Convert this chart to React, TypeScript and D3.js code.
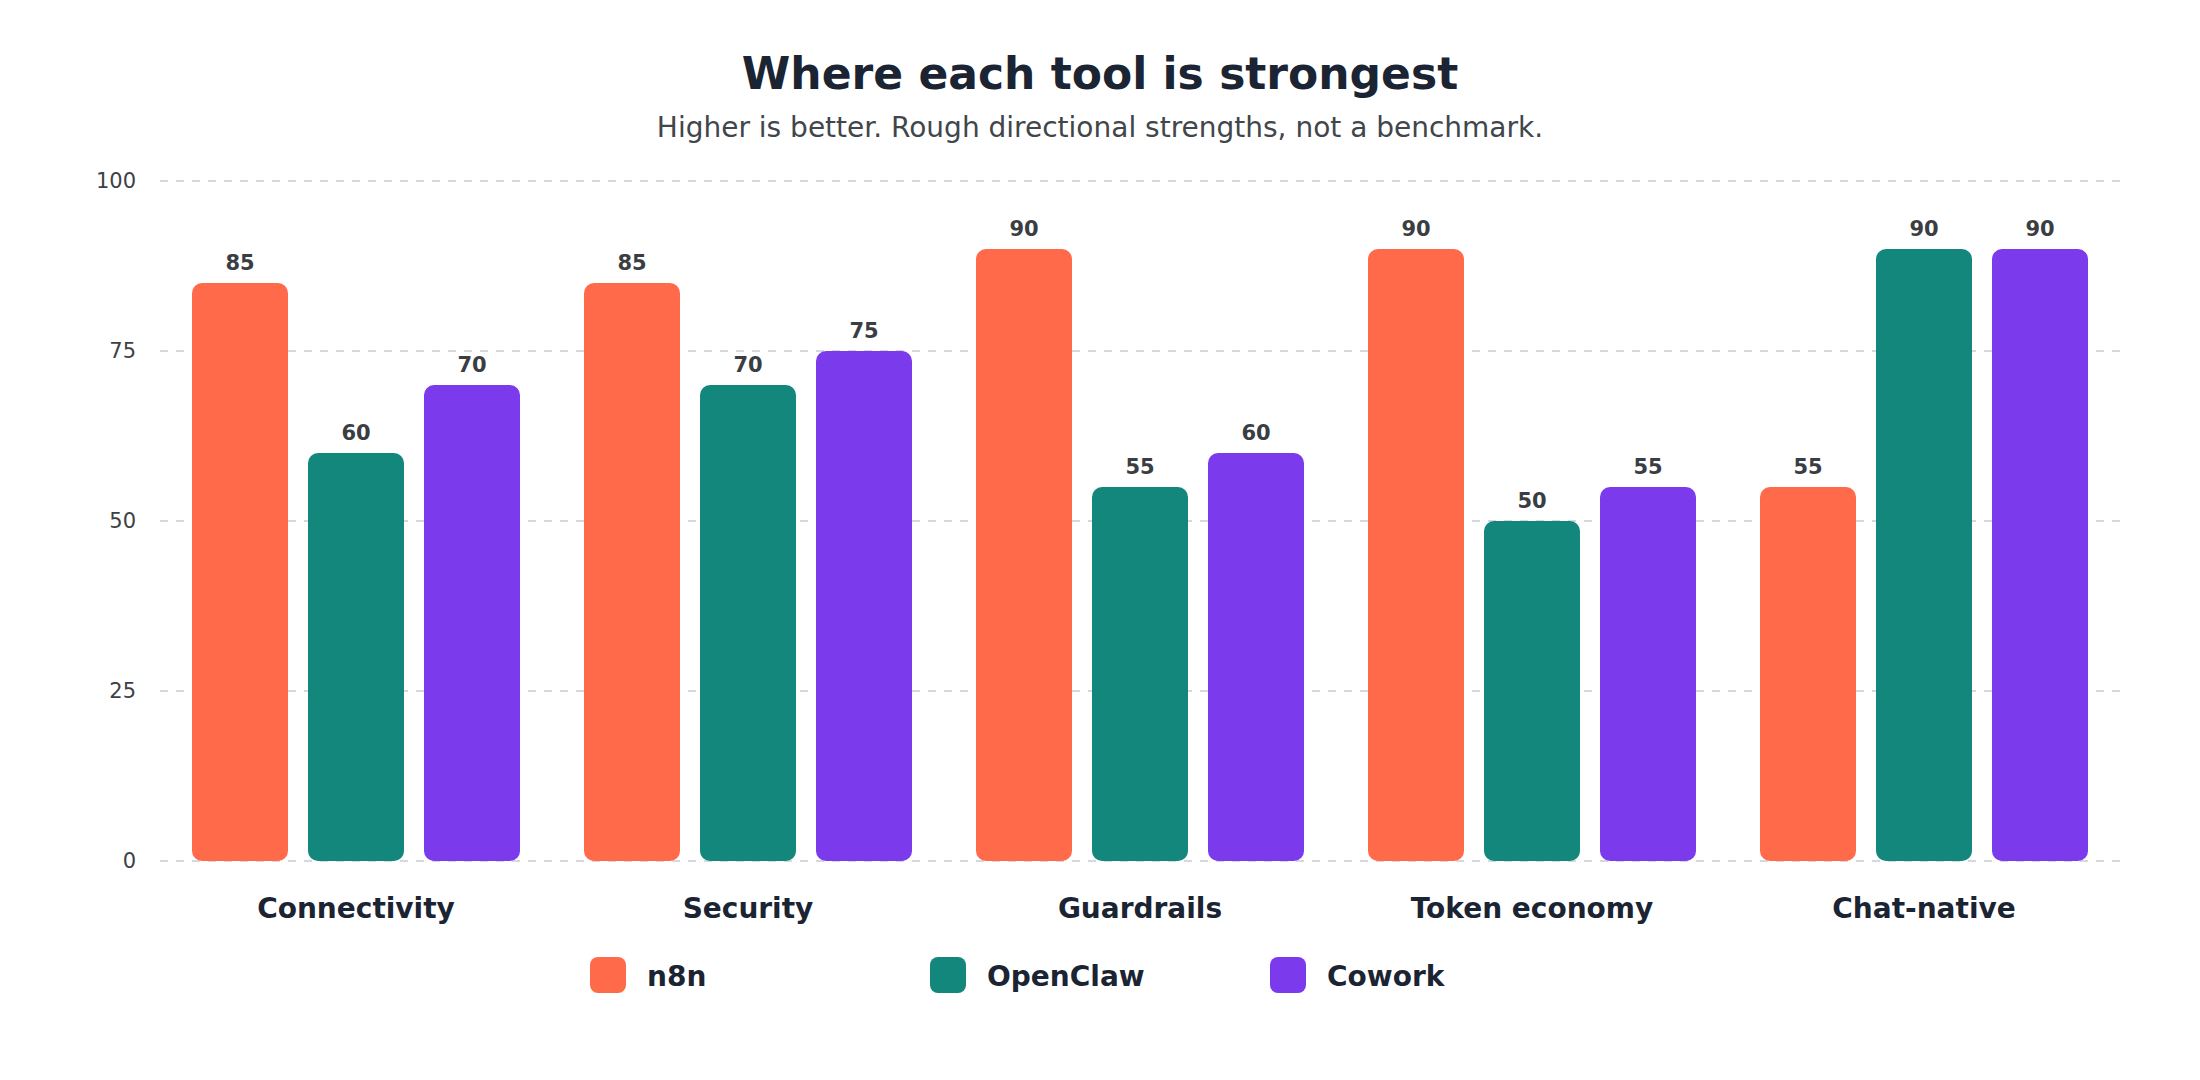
import React from "react";
import * as d3 from "d3";

const categories = ["Connectivity", "Security", "Guardrails", "Token economy", "Chat-native"];
const seriesNames = ["n8n", "OpenClaw", "Cowork"];
const n8nValues = [85, 85, 90, 90, 55];
const openClawValues = [60, 70, 55, 50, 90];
const coworkValues = [70, 75, 60, 55, 90];
const seriesColors = ["#FF6A4B", "#14877D", "#7C3AED"];
const yTicks = [0, 25, 50, 75, 100];

const W = 2200;
const H = 1080;
const FONT = "'DejaVu Sans', Verdana, sans-serif";

export default function App() {
  const values = [n8nValues, openClawValues, coworkValues];
  const x0 = d3.scaleBand<string>().domain(categories).range([160, 2120]).padding(0);
  const x1 = d3
    .scaleBand<string>()
    .domain(seriesNames)
    .range([32, x0.bandwidth() - 32])
    .paddingInner(20 / 116)
    .paddingOuter(0);
  const y = d3.scaleLinear().domain([0, 100]).range([861, 181]);

  return (
    <svg
      width={W}
      height={H}
      viewBox={`0 0 ${W} ${H}`}
      style={{ position: "fixed", left: 0, top: 0, background: "#ffffff" }}
      fontFamily={FONT}
    >
      <rect x={0} y={0} width={W} height={H} fill="#ffffff" />
      <text x={W / 2} y={89} textAnchor="middle" fontSize={44} fontWeight="bold" fill="#1B2433">
        Where each tool is strongest
      </text>
      <text x={W / 2} y={137} textAnchor="middle" fontSize={28} fill="#41464B">
        Higher is better. Rough directional strengths, not a benchmark.
      </text>

      {yTicks.map((t) => (
        <g key={t}>
          <line
            x1={160}
            x2={2120}
            y1={y(t)}
            y2={y(t)}
            stroke="#D5D9DE"
            strokeWidth={2}
            strokeDasharray="8,8"
          />
          <text
            x={136}
            y={y(t)}
            textAnchor="end"
            dominantBaseline="central"
            fontSize={21}
            fill="#3D4146"
          >
            {t}
          </text>
        </g>
      ))}

      {categories.map((c, ci) => (
        <g key={c} transform={`translate(${x0(c)},0)`}>
          {seriesNames.map((s, si) => {
            const v = values[si][ci];
            const bx = x1(s) as number;
            return (
              <g key={s}>
                <rect
                  x={bx}
                  y={y(v)}
                  width={x1.bandwidth()}
                  height={y(0) - y(v)}
                  rx={10}
                  ry={10}
                  fill={seriesColors[si]}
                />
                <text
                  x={bx + x1.bandwidth() / 2}
                  y={y(v) - 13}
                  textAnchor="middle"
                  fontSize={21}
                  fontWeight="bold"
                  fill="#3A3E43"
                >
                  {v}
                </text>
              </g>
            );
          })}
          <text
            x={x0.bandwidth() / 2}
            y={918}
            textAnchor="middle"
            fontSize={28}
            fontWeight="bold"
            fill="#1B2433"
          >
            {c}
          </text>
        </g>
      ))}

      {seriesNames.map((s, si) => {
        const lx = 590 + si * 340;
        return (
          <g key={s} transform={`translate(${lx},957)`}>
            <rect x={0} y={0} width={36} height={36} rx={8} ry={8} fill={seriesColors[si]} />
            <text x={57} y={29} fontSize={28} fontWeight="bold" fill="#1B2433">
              {s}
            </text>
          </g>
        );
      })}
    </svg>
  );
}
